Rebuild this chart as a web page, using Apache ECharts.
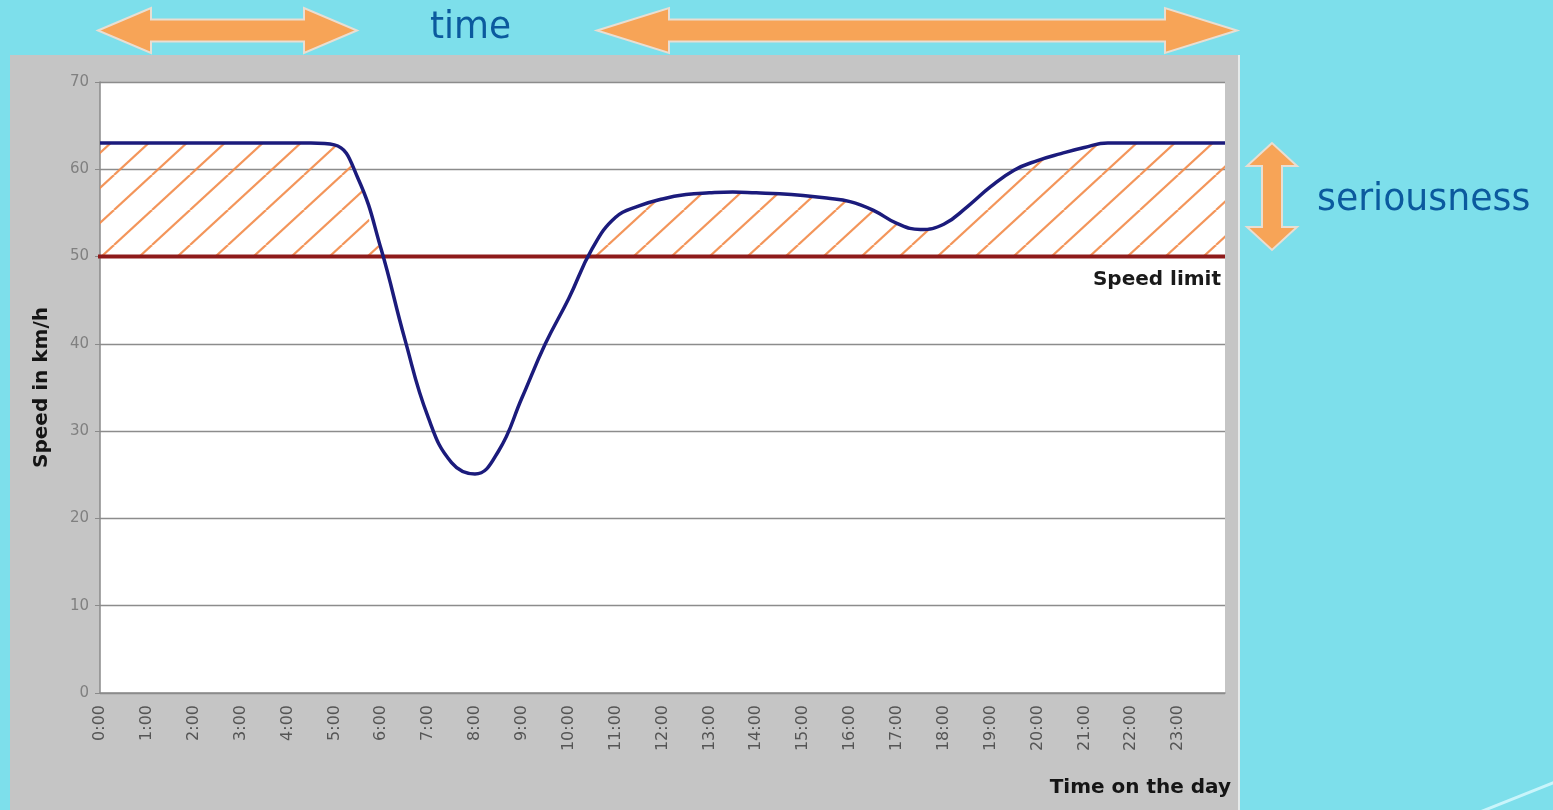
<!DOCTYPE html>
<html>
<head>
<meta charset="utf-8">
<script src="https://cdn.jsdelivr.net/npm/echarts@6/dist/echarts.min.js"></script>
<style>
  html, body { margin: 0; padding: 0; background: #7ddfeb; }
  #chart { width: 1553px; height: 810px; }
</style>
</head>
<body>
<div id="chart"></div>
<script>
// Half-hourly readings: hour of day (x) and average speed in km/h (y)
const hours  = [0, 0.5, 1, 1.5, 2, 2.5, 3, 3.5, 4, 4.5, 5, 5.5, 6, 6.5, 7, 7.5, 8, 8.5, 9, 9.5, 10, 10.5, 11, 11.5, 12, 12.5, 13, 13.5, 14, 14.5, 15, 15.5, 16, 16.5, 17, 17.5, 18, 18.5, 19, 19.5, 20, 20.5, 21, 21.5, 22, 22.5, 23, 23.5, 24];
const speeds = [63, 63, 63, 63, 63, 63, 63, 63, 63, 63, 62.8, 59, 50.8, 40.6, 31.6, 26.4, 25.1, 27.7, 33.8, 40, 45.2, 50.9, 54.5, 55.8, 56.6, 57.1, 57.3, 57.4, 57.3, 57.2, 57, 56.7, 56.3, 55.3, 53.8, 53.1, 53.7, 55.7, 58, 59.9, 61, 61.8, 62.5, 63, 63, 63, 63, 63, 63];
const speedLimit = 50;
const limitSpan = [-0.26, 24];
const yTicks = [0, 10, 20, 30, 40, 50, 60, 70];
const hourLabels = ['0:00','1:00','2:00','3:00','4:00','5:00','6:00','7:00','8:00','9:00','10:00','11:00','12:00','13:00','14:00','15:00','16:00','17:00','18:00','19:00','20:00','21:00','22:00','23:00'];

const speedData = hours.map((h, i) => [h, speeds[i]]);
// portion of the curve above the limit, filled with hatching
const excessData = hours.map((h, i) => [h, Math.max(speeds[i], speedLimit)]);

// diagonal hatch tile
function hatchTile() {
  const w = 38, h = 35;
  const c = document.createElement('canvas');
  c.width = w; c.height = h;
  const ctx = c.getContext('2d');
  ctx.strokeStyle = 'rgba(242,138,72,0.9)';
  ctx.lineWidth = 2.2;
  for (let k = -1; k <= 1; k++) {
    ctx.beginPath();
    ctx.moveTo(k * w, h);
    ctx.lineTo(k * w + w, 0);
    ctx.stroke();
  }
  return c;
}

function hArrow(x1, x2, yc, headLen, headHalf, shaftHalf) {
  return [
    [x1, yc], [x1 + headLen, yc - headHalf], [x1 + headLen, yc - shaftHalf],
    [x2 - headLen, yc - shaftHalf], [x2 - headLen, yc - headHalf], [x2, yc],
    [x2 - headLen, yc + headHalf], [x2 - headLen, yc + shaftHalf],
    [x1 + headLen, yc + shaftHalf], [x1 + headLen, yc + headHalf]
  ];
}
function vArrow(y1, y2, xc, headLen, headHalf, shaftHalf) {
  return hArrow(y1, y2, xc, headLen, headHalf, shaftHalf).map(p => [p[1], p[0]]);
}

const arrowStyle = { fill: '#f7a457', stroke: '#e9ded2', lineWidth: 2 };
const noteStyle = { fill: '#0b5a9e', fontFamily: 'DejaVu Sans', fontSize: 37 };
const boldText = { fontFamily: 'DejaVu Sans', fontWeight: 'bold', fontSize: 20, color: '#151515' };

const chart = echarts.init(document.getElementById('chart'), null, { renderer: 'canvas' });

chart.setOption({
  backgroundColor: '#7ddfeb',
  animation: false,
  graphic: [
    { type: 'rect', z: -10, shape: { x: 10, y: 55, width: 1228, height: 760 }, style: { fill: '#c5c5c5' } },
    { type: 'rect', z: -10, shape: { x: 1238, y: 55, width: 2, height: 760 }, style: { fill: '#e6eaea' } },
    { type: 'polygon', shape: { points: hArrow(98, 357, 30.5, 53, 22.5, 11) }, style: arrowStyle },
    { type: 'polygon', shape: { points: hArrow(597, 1237, 30.5, 72, 22.5, 11) }, style: arrowStyle },
    { type: 'polygon', shape: { points: vArrow(143, 250, 1272, 23, 25, 10) }, style: arrowStyle },
    { type: 'text', x: 430, y: 28, scaleX: 0.97, style: Object.assign({ text: 'time', textVerticalAlign: 'middle' }, noteStyle) },
    { type: 'text', x: 1317, y: 200, scaleX: 0.98, style: Object.assign({ text: 'seriousness', textVerticalAlign: 'middle' }, noteStyle) },
    { type: 'bezierCurve', shape: { x1: 1480, y1: 812, x2: 1555, y2: 782, cpx1: 1510, cpy1: 800, cpx2: 1530, cpy2: 792 },
      style: { stroke: 'rgba(220,250,255,0.8)', lineWidth: 3, fill: null } }
  ],
  grid: {
    left: 100, top: 82, right: 328, bottom: 117,
    show: true, backgroundColor: '#ffffff', borderWidth: 0
  },
  xAxis: {
    type: 'value', min: 0, max: 24, interval: 1,
    name: 'Time on the day', nameLocation: 'end', nameGap: 6,
    nameTextStyle: Object.assign({ align: 'right', verticalAlign: 'top', padding: [85, 0, 0, 0] }, boldText),
    axisLine: { show: true, onZero: false, lineStyle: { color: '#8a8a8a', width: 1.5 } },
    axisTick: { show: false },
    splitLine: { show: false },
    axisLabel: {
      rotate: 90, margin: 12, fontFamily: 'DejaVu Sans', fontSize: 16, color: '#555',
      showMaxLabel: false,
      formatter: v => (v < hourLabels.length ? hourLabels[v] : '')
    }
  },
  yAxis: {
    type: 'value', min: yTicks[0], max: yTicks[yTicks.length - 1], interval: 10,
    name: 'Speed in km/h', nameLocation: 'middle', nameRotate: 90, nameGap: 48,
    nameTextStyle: boldText,
    axisLine: { show: true, lineStyle: { color: '#8a8a8a', width: 1.5 } },
    axisTick: { show: true, length: 5, lineStyle: { color: '#8a8a8a' } },
    splitLine: { show: true, lineStyle: { color: '#8c8c8c', width: 1.3 } },
    axisLabel: { margin: 11, fontFamily: 'DejaVu Sans', fontSize: 15, color: '#808080' }
  },
  series: [
    {
      name: 'excess', type: 'line', z: 1,
      data: excessData, smooth: 0.45, symbol: 'none',
      lineStyle: { width: 0, opacity: 0 },
      areaStyle: { origin: speedLimit, opacity: 1, color: { image: hatchTile(), repeat: 'repeat' } },
      silent: true
    },
    {
      name: 'Speed limit', type: 'line', z: 2, clip: false,
      data: limitSpan.map(x => [x, speedLimit]),
      symbol: 'circle', symbolSize: 0, showSymbol: true,
      lineStyle: { color: '#8e1a1a', width: 4 },
      label: {
        show: true, position: 'left', distance: 4, offset: [0, 23],
        formatter: p => (p.dataIndex === 1 ? 'Speed limit' : ''),
        fontFamily: 'DejaVu Sans', fontWeight: 'bold', fontSize: 20, color: '#1a1a1a'
      }
    },
    {
      name: 'Speed', type: 'line', z: 3,
      data: speedData, smooth: 0.45, symbol: 'none',
      lineStyle: { color: '#1b1b7c', width: 3.5 }
    }
  ]
});
</script>
</body>
</html>
